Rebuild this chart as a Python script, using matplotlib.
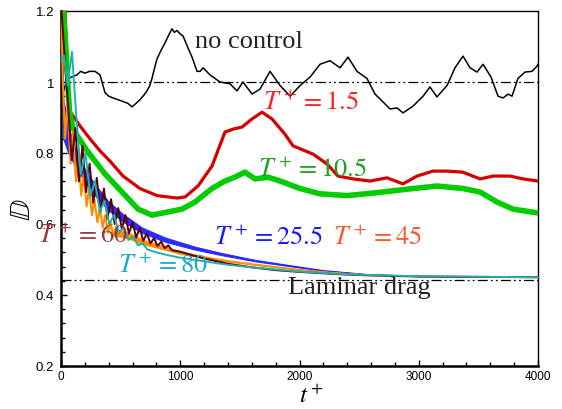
import matplotlib
matplotlib.use("Agg")
import matplotlib.pyplot as plt
from matplotlib.ticker import MultipleLocator

plt.rcParams['mathtext.fontset'] = 'stix'

# ---------------- data ----------------
nc_t = [8, 35, 59, 100, 134, 165, 201, 240, 285, 327, 369, 400, 436, 480, 520, 560, 595, 630, 662, 700,
        721, 745, 763, 785, 805, 840, 872, 900, 931, 950, 973, 1000, 1023, 1060, 1099, 1141, 1166, 1191,
        1250, 1333, 1417, 1476, 1526, 1602, 1669, 1753, 1837, 1921, 2005, 2089, 2172, 2256, 2340, 2407,
        2482, 2566, 2633, 2700, 2759, 2818, 2868, 2952, 3036, 3094, 3153, 3237, 3304, 3371, 3430, 3489,
        3539, 3606, 3665, 3707, 3749, 3782, 3832, 3891, 3950, 3992, 4000]
nc_d = [0.96, 0.99, 1.01, 1.015, 1.02, 1.03, 1.025, 1.03, 1.03, 1.02, 0.97, 0.96, 0.955, 0.95, 0.945, 0.94,
        0.93, 0.94, 0.95, 0.965, 0.975, 0.99, 1.01, 1.04, 1.065, 1.09, 1.11, 1.13, 1.15, 1.14, 1.145, 1.135,
        1.13, 1.10, 1.07, 1.03, 1.03, 1.04, 1.02, 1.00, 0.995, 0.975, 1.0, 0.966, 0.98, 1.03, 0.99, 0.96,
        0.99, 1.014, 1.05, 1.06, 1.04, 1.07, 1.03, 1.01, 0.966, 0.944, 0.924, 0.927, 0.913, 0.932, 0.96,
        0.986, 0.958, 0.99, 1.04, 1.073, 1.04, 1.028, 1.05, 1.014, 0.96, 0.955, 0.966, 0.96, 1.01, 1.028,
        1.03, 1.045, 1.05]

r15_t = [0, 34, 55, 80, 160, 243, 327, 411, 520, 662, 805, 973, 1040, 1149, 1266, 1375, 1450, 1518, 1602,
         1686, 1769, 1878, 1946, 2113, 2231, 2323, 2449, 2591, 2734, 2868, 2985, 3120, 3237, 3371, 3514,
         3623, 3765, 3874, 4000]
r15_d = [1.35, 1.2, 1.0, 0.915, 0.876, 0.84, 0.806, 0.777, 0.735, 0.70, 0.68, 0.673, 0.676, 0.707, 0.763,
         0.859, 0.868, 0.873, 0.896, 0.915, 0.896, 0.853, 0.82, 0.797, 0.769, 0.735, 0.727, 0.721, 0.73,
         0.713, 0.735, 0.749, 0.749, 0.746, 0.727, 0.735, 0.735, 0.727, 0.721]

g105_t = [0, 40, 70, 100, 143, 226, 369, 512, 646, 763, 897, 1015, 1124, 1266, 1375, 1459, 1543, 1627, 1736,
          1837, 2005, 2172, 2398, 2616, 2901, 3153, 3371, 3514, 3656, 3790, 4000]
g105_d = [1.3, 1.1, 0.92, 0.87, 0.845, 0.803, 0.741, 0.69, 0.642, 0.625, 0.634, 0.642, 0.662, 0.70, 0.721,
          0.732, 0.746, 0.727, 0.732, 0.721, 0.70, 0.685, 0.68, 0.687, 0.698, 0.707, 0.70, 0.69, 0.662,
          0.642, 0.631]

# T+=25.5 : envelope of the fast oscillation
b255_t = [0, 20, 60, 100, 150, 200, 285, 394, 512, 679, 872, 1124, 1350, 1627, 1900, 2200, 2566, 3000, 4000]
b255_lo = [1.15, 0.84, 0.80, 0.775, 0.745, 0.72, 0.68, 0.64, 0.608, 0.575, 0.550, 0.528, 0.512, 0.495, 0.482,
           0.468, 0.458, 0.453, 0.451]
b255_hi = [1.30, 0.95, 0.88, 0.83, 0.785, 0.755, 0.712, 0.665, 0.630, 0.590, 0.562, 0.536, 0.518, 0.499,
           0.485, 0.470, 0.459, 0.454, 0.451]

# T+=45 : early zig-zag, then envelope
o45_t = [0, 15, 35, 55, 80, 100, 125, 145, 170, 190, 215, 235, 260, 280, 305, 325, 350, 370, 395, 415, 440, 460]
o45_d = [1.25, 1.0, 0.84, 0.95, 0.77, 0.86, 0.72, 0.79, 0.68, 0.74, 0.65, 0.70, 0.625, 0.67, 0.605, 0.645,
         0.59, 0.625, 0.575, 0.605, 0.565, 0.59]
o45b_t = [450, 560, 700, 800, 1000, 1200, 1400, 1700, 2000, 2300, 2600, 3000, 3500, 4000]
o45b_lo = [0.568, 0.56, 0.542, 0.534, 0.516, 0.504, 0.494, 0.482, 0.471, 0.463, 0.457, 0.453, 0.452, 0.451]
o45b_hi = [0.588, 0.576, 0.554, 0.544, 0.523, 0.509, 0.498, 0.485, 0.473, 0.464, 0.458, 0.454, 0.452, 0.451]

m60_t = [0, 60, 90, 120, 150, 180, 210, 240, 270, 300, 330, 360, 390, 420, 450, 480, 510, 540, 570, 600, 630,
         660, 690, 720, 750, 780, 810, 840, 870, 900, 930, 1000, 1100, 1200, 1400, 1600, 1800, 2000, 2300,
         2600, 3000, 3500, 4000]
m60_d = [1.22, 0.93, 0.78, 0.87, 0.72, 0.82, 0.69, 0.77, 0.66, 0.73, 0.635, 0.70, 0.615, 0.67, 0.60, 0.645,
         0.585, 0.625, 0.573, 0.605, 0.562, 0.588, 0.553, 0.573, 0.545, 0.56, 0.538, 0.55, 0.532, 0.54, 0.526,
         0.522, 0.512, 0.503, 0.488, 0.478, 0.47, 0.465, 0.459, 0.455, 0.452, 0.451, 0.45]

c80_t = [0, 25, 55, 92, 125, 165, 205, 245, 285, 325, 365, 405, 445, 485, 525, 565, 605, 645, 685, 725, 800,
         900, 1000, 1200, 1400, 1600, 1800, 2000, 2300, 2600, 3000, 4000]
c80_d = [1.06, 1.075, 0.99, 1.085, 0.92, 0.74, 0.80, 0.68, 0.72, 0.635, 0.665, 0.60, 0.625, 0.575, 0.59,
         0.555, 0.565, 0.54, 0.545, 0.528, 0.52, 0.512, 0.505, 0.495, 0.485, 0.478, 0.472, 0.466, 0.46,
         0.456, 0.453, 0.45]

ref_levels = [1.0, 0.443]
yticks = [0.2, 0.4, 0.6, 0.8, 1.0, 1.2]
ytick_labels = ['0.2', '0.4', '0.6', '0.8', '1', '1.2']
xticks = [0, 1000, 2000, 3000, 4000]
xtick_labels = ['0', '1000', '2000', '3000', '4000']

# ---------------- figure ----------------
fig = plt.figure(figsize=(5.62, 4.10), dpi=100)
ax = fig.add_axes([61/562, 1-367/410, 477/562, 355/410])

dd = (8, 2.5, 1.5, 2.5, 1.5, 2.5)
for lv in ref_levels:
    ax.axhline(lv, color='black', lw=0.9, dashes=dd, zorder=1)

ax.plot(nc_t, nc_d, color='black', lw=1.1, zorder=3)
ax.plot(r15_t, r15_d, color='#d40000', lw=2.3, zorder=3)
ax.plot(g105_t, g105_d, color='#00cc00', lw=4.0, zorder=3, solid_capstyle='butt')

ax.fill_between(b255_t, b255_lo, b255_hi, color='#2a2aff', lw=0.8, edgecolor='#2a2aff', zorder=2)
ax.plot(o45_t, o45_d, color='#ff8c00', lw=1.5, zorder=3)
ax.fill_between(o45b_t, o45b_lo, o45b_hi, color='#ff8c00', lw=0.8, edgecolor='#ff8c00', zorder=3)
ax.plot(m60_t, m60_d, color='#5a0000', lw=1.4, zorder=4)
ax.plot(c80_t, c80_d, color='#1fb0b0', lw=1.4, zorder=5)

ax.set_xlim(0, 4000)
ax.set_ylim(0.2, 1.2)
ax.set_xticks(xticks)
ax.set_xticklabels(xtick_labels, fontfamily='Liberation Sans', fontsize=8.5)
ax.set_yticks(yticks)
ax.set_yticklabels(ytick_labels, fontfamily='Liberation Sans', fontsize=9.5)
ax.xaxis.set_minor_locator(MultipleLocator(200))
ax.yaxis.set_minor_locator(MultipleLocator(0.04))
ax.tick_params(which='both', direction='in', top=False, right=False, width=1)
ax.tick_params(which='major', length=4.5)
ax.tick_params(which='minor', length=3)
ax.tick_params(axis='y', pad=5)
ax.tick_params(axis='x', pad=3)
for s in ['left', 'bottom']:
    ax.spines[s].set_linewidth(1.8)
for s in ['top', 'right']:
    ax.spines[s].set_linewidth(1.0)

fig.text(311/562, 1-408/410, r'$t^+$', fontsize=18, ha='center', va='bottom')
fig.text(22/562, 1-210/410, r'$\mathbb{D}$', fontsize=21, rotation=90, ha='center', va='center')

serif = 'Liberation Serif'
ax.text(195/562, 1-42/410, 'no control', transform=fig.transFigure, fontsize=19, family=serif,
        color='#222222', ha='left', va='center')
ax.text(288/562, 1-288/410, 'Laminar drag', transform=fig.transFigure, fontsize=19, family=serif,
        color='#222222', ha='left', va='center')

labels = [
    (r'$T^+=1.5$', 263, 103, '#ff2020'),
    (r'$T^+=10.5$', 258, 170, '#22a022'),
    (r'$T^+=25.5$', 214, 238, '#1a1aff'),
    (r'$T^+=45$', 333, 238, '#ff5530'),
    (r'$T^+=60$', 38, 236, '#9b3a3a'),
    (r'$T^+=80$', 118, 266, '#22a8cc'),
]
for txt, x, y, c in labels:
    fig.text(x/562, 1-y/410, txt, fontsize=19, color=c, ha='left', va='center', zorder=10)

fig.savefig('out.png', dpi=100)
